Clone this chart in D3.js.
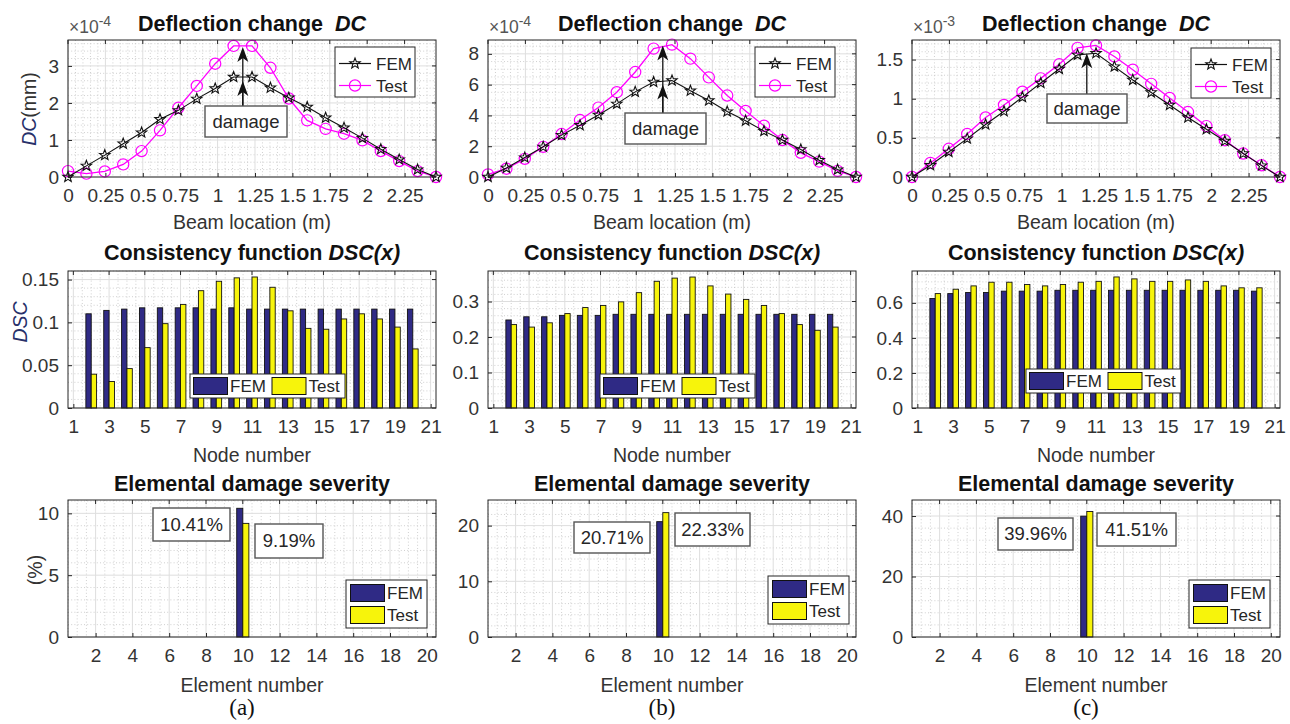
<!DOCTYPE html>
<html><head><meta charset="utf-8">
<script src="https://cdn.jsdelivr.net/npm/d3@7"></script>
<style>body{margin:0;background:#fff} svg{display:block}</style>
</head><body><svg id="c" width="1290" height="724"></svg>
<script>
// ---------------- DATA ----------------
const beamX = [0,0.123,0.246,0.369,0.492,0.615,0.738,0.861,0.984,1.107,1.23,1.353,1.476,1.599,1.722,1.845,1.968,2.091,2.214,2.337,2.46];
const beamTicks = [0,0.25,0.5,0.75,1,1.25,1.5,1.75,2,2.25];
const beamTickLabels = ["0","0.25","0.5","0.75","1","1.25","1.5","1.75","2","2.25"];

// Deflection change (mantissa, multiply by 10^exp)
const dcExp = [-4, -4, -3];
const dcFEM_a  = [0,0.30,0.59,0.90,1.20,1.56,1.80,2.11,2.39,2.70,2.70,2.41,2.14,1.89,1.60,1.33,1.05,0.75,0.47,0.20,0];
const dcTest_a = [0.16,0.09,0.15,0.34,0.70,1.26,1.87,2.46,3.06,3.54,3.54,2.95,2.12,1.53,1.30,1.17,0.99,0.70,0.43,0.16,0];
const dcFEM_b  = [0,0.59,1.26,1.96,2.72,3.36,4.03,4.75,5.53,6.17,6.27,5.60,4.97,4.25,3.66,2.98,2.40,1.79,1.09,0.48,0];
const dcTest_b = [0.17,0.54,1.18,1.96,2.79,3.70,4.51,5.51,6.82,8.34,8.60,7.69,6.47,5.29,4.29,3.33,2.40,1.57,1.00,0.40,0];
const dcFEM_c  = [0,0.15,0.32,0.49,0.67,0.84,1.02,1.20,1.38,1.56,1.58,1.41,1.24,1.08,0.92,0.76,0.61,0.46,0.30,0.145,0];
const dcTest_c = [0,0.18,0.36,0.55,0.76,0.92,1.09,1.26,1.44,1.65,1.68,1.54,1.37,1.19,1.01,0.83,0.65,0.47,0.30,0.15,0];
const dcYTicks = [[0,1,2,3],[0,2,4,6,8],[0,0.5,1,1.5]];
const dcYMax = [3.7, 8.9, 1.75];

// Consistency function DSC
const nodes = [2,3,4,5,6,7,8,9,10,11,12,13,14,15,16,17,18,19,20];
const nodeTicks = [1,3,5,7,9,11,13,15,17,19,21];
const dscFEM_a  = [0.110,0.114,0.1155,0.117,0.117,0.117,0.117,0.1155,0.117,0.1155,0.1155,0.1155,0.1155,0.1155,0.1155,0.1155,0.1155,0.1155,0.1155];
const dscTest_a = [0.0395,0.031,0.046,0.0705,0.0985,0.121,0.137,0.148,0.152,0.153,0.141,0.1135,0.093,0.092,0.104,0.110,0.104,0.0945,0.069];
const dscFEM_b  = [0.248,0.257,0.257,0.261,0.261,0.261,0.264,0.264,0.264,0.264,0.264,0.264,0.264,0.264,0.264,0.264,0.264,0.264,0.264];
const dscTest_b = [0.235,0.228,0.240,0.266,0.283,0.289,0.299,0.325,0.357,0.366,0.369,0.344,0.321,0.306,0.289,0.266,0.235,0.219,0.228];
const dscFEM_c  = [0.625,0.653,0.659,0.659,0.667,0.667,0.667,0.672,0.672,0.672,0.672,0.672,0.672,0.672,0.672,0.672,0.672,0.672,0.667];
const dscTest_c = [0.653,0.678,0.697,0.718,0.718,0.705,0.697,0.705,0.718,0.723,0.748,0.737,0.723,0.723,0.731,0.723,0.697,0.686,0.686];
const dscYTicks = [[0,0.05,0.1,0.15],[0,0.1,0.2,0.3],[0,0.2,0.4,0.6]];
const dscYTickLabels = [["0","0.05","0.1","0.15"],["0","0.1","0.2","0.3"],["0","0.2","0.4","0.6"]];
const dscYMax = [0.16, 0.386, 0.782];

// Elemental damage severity (%)
const elements = [1,2,3,4,5,6,7,8,9,10,11,12,13,14,15,16,17,18,19,20];
const elemTicks = [2,4,6,8,10,12,14,16,18,20];
const sevFEM_a  = [0,0,0,0,0,0,0,0,0,10.41,0,0,0,0,0,0,0,0,0,0];
const sevTest_a = [0,0,0,0,0,0,0,0,0,9.19,0,0,0,0,0,0,0,0,0,0];
const sevFEM_b  = [0,0,0,0,0,0,0,0,0,20.71,0,0,0,0,0,0,0,0,0,0];
const sevTest_b = [0,0,0,0,0,0,0,0,0,22.33,0,0,0,0,0,0,0,0,0,0];
const sevFEM_c  = [0,0,0,0,0,0,0,0,0,39.96,0,0,0,0,0,0,0,0,0,0];
const sevTest_c = [0,0,0,0,0,0,0,0,0,41.51,0,0,0,0,0,0,0,0,0,0];
const sevLabelFEM  = ["10.41%","20.71%","39.96%"];
const sevLabelTest = ["9.19%","22.33%","41.51%"];
const sevYTicks = [[0,5,10],[0,10,20],[0,20,40]];
const sevYMax = [11.08, 24.6, 45.3];

const panelTags = ["(a)","(b)","(c)"];
const seriesNames = ["FEM","Test"];

// ---------------- STYLE / LAYOUT ----------------
const FONT = '"Liberation Sans", Arial, Helvetica, sans-serif';
const AX = '#262626';
const C_FEM = '#2f2a85', C_TEST = '#f7f40b', C_MAG = '#ff00ff';
const cols = [68, 488, 912];
const W = 368;
const rowTop = [40, 271, 500];
const H = 137;

const svg = d3.select('#c');

function frame(x0, y0, xs, ys, xMajor, yMajor, xMinorStep, yMinorStep, xLabels, yLabels) {
  const g = svg.append('g');
  g.append('rect').attr('x', x0).attr('y', y0).attr('width', W).attr('height', H).attr('fill', '#fff');
  const near = (v, arr) => arr.some(a => Math.abs(a - v) < 1e-9);
  const [xd0, xd1] = xs.domain(), [yd0, yd1] = ys.domain();
  const xMin = d3.range(Math.ceil(xd0 / xMinorStep - 1e-9) * xMinorStep, xd1 + 1e-9, xMinorStep).filter(v => !near(Math.round(v*1e6)/1e6, xMajor));
  const yMin = d3.range(Math.ceil(yd0 / yMinorStep - 1e-9) * yMinorStep, yd1 + 1e-9, yMinorStep).filter(v => !near(Math.round(v*1e6)/1e6, yMajor));
  g.selectAll(null).data(xMin).join('line')
    .attr('x1', d => xs(d)).attr('x2', d => xs(d)).attr('y1', y0).attr('y2', y0 + H)
    .attr('stroke', '#c4c4c4').attr('stroke-width', 0.8).attr('stroke-dasharray', '1,2.2');
  g.selectAll(null).data(yMin).join('line')
    .attr('y1', d => ys(d)).attr('y2', d => ys(d)).attr('x1', x0).attr('x2', x0 + W)
    .attr('stroke', '#c4c4c4').attr('stroke-width', 0.8).attr('stroke-dasharray', '1,2.2');
  g.selectAll(null).data(xMajor).join('line')
    .attr('x1', d => xs(d)).attr('x2', d => xs(d)).attr('y1', y0).attr('y2', y0 + H)
    .attr('stroke', '#dedede').attr('stroke-width', 1);
  g.selectAll(null).data(yMajor).join('line')
    .attr('y1', d => ys(d)).attr('y2', d => ys(d)).attr('x1', x0).attr('x2', x0 + W)
    .attr('stroke', '#dedede').attr('stroke-width', 1);
  const bx = d3.axisBottom(xs).tickValues(xMajor).tickSizeInner(-4).tickSizeOuter(0).tickPadding(11)
    .tickFormat((d, i) => xLabels ? xLabels[i] : d);
  const by = d3.axisLeft(ys).tickValues(yMajor).tickSizeInner(-4).tickSizeOuter(0).tickPadding(9)
    .tickFormat((d, i) => yLabels ? yLabels[i] : d);
  const ax = g.append('g').attr('transform', `translate(0,${y0 + H})`).call(bx);
  const ay = g.append('g').attr('transform', `translate(${x0},0)`).call(by);
  [ax, ay].forEach(a => {
    a.select('.domain').remove();
    a.selectAll('line').attr('stroke', AX);
    a.selectAll('text').attr('fill', '#333').attr('font-family', FONT).attr('font-size', 19);
  });
  ax.selectAll('text').attr('dy', '0.72em');
  g.selectAll(null).data(xMajor).join('line').attr('x1', d => xs(d)).attr('x2', d => xs(d)).attr('y1', y0).attr('y2', y0 + 4).attr('stroke', AX);
  g.selectAll(null).data(yMajor).join('line').attr('y1', d => ys(d)).attr('y2', d => ys(d)).attr('x1', x0 + W).attr('x2', x0 + W - 4).attr('stroke', AX);
  return g;
}
function box(x0, y0) {
  svg.append('rect').attr('x', x0).attr('y', y0).attr('width', W).attr('height', H)
    .attr('fill', 'none').attr('stroke', AX).attr('stroke-width', 1);
}
function title(cx, y, main, ital) {
  const t = svg.append('text').attr('x', cx).attr('y', y).attr('text-anchor', 'middle')
    .attr('font-family', FONT).attr('font-size', 21.5).attr('font-weight', 'bold').attr('fill', '#111')
    .attr('xml:space', 'preserve');
  t.append('tspan').text(main);
  t.append('tspan').attr('font-style', 'italic').text(ital);
}
function xlabel(cx, y, s) {
  svg.append('text').attr('x', cx).attr('y', y).attr('text-anchor', 'middle')
    .attr('font-family', FONT).attr('font-size', 19.5).attr('fill', '#333').text(s);
}
function starPath(r) {
  const pts = [];
  for (let i = 0; i < 10; i++) {
    const a = -Math.PI / 2 + i * Math.PI / 5;
    const rr = i % 2 ? r * 0.42 : r;
    pts.push([rr * Math.cos(a), rr * Math.sin(a)]);
  }
  return 'M' + pts.map(p => p.join(',')).join('L') + 'Z';
}
function textBox(x, y, w, h, s) {
  svg.append('rect').attr('x', x).attr('y', y).attr('width', w).attr('height', h)
    .attr('fill', '#fff').attr('stroke', '#555').attr('stroke-width', 1.4);
  svg.append('text').attr('x', x + w / 2).attr('y', y + h / 2).attr('dy', '0.35em').attr('text-anchor', 'middle')
    .attr('font-family', FONT).attr('font-size', 18.5).attr('fill', AX).text(s);
}
function arrowUp(x, yFrom, yTip) {
  svg.append('line').attr('x1', x).attr('x2', x).attr('y1', yFrom).attr('y2', yTip + 8).attr('stroke', '#111').attr('stroke-width', 1.3);
  svg.append('path').attr('d', `M${x},${yTip}L${x - 5.5},${yTip + 15}L${x},${yTip + 11}L${x + 5.5},${yTip + 15}Z`).attr('fill', '#111');
}

// ---------------- ROW 1: Deflection change ----------------
const dcFEM = [dcFEM_a, dcFEM_b, dcFEM_c], dcTest = [dcTest_a, dcTest_b, dcTest_c];
const dmgBoxes = [[205, 106, 82, 31], [625, 113, 81, 31], [1047, 94, 80, 29]];
const legTop = [[335, 47], [755, 47], [1191, 48]];
for (let p = 0; p < 3; p++) {
  const x0 = cols[p], y0 = rowTop[0];
  const xs = d3.scaleLinear().domain([0, 2.46]).range([x0, x0 + W]);
  const ys = d3.scaleLinear().domain([0, dcYMax[p]]).range([y0 + H, y0]);
  const ymStep = dcYTicks[p][1] - dcYTicks[p][0];
  frame(x0, y0, xs, ys, beamTicks, dcYTicks[p], 0.05, ymStep === 2 ? 0.5 : ymStep / 5, beamTickLabels, null);
  const line = d3.line().x((d, i) => xs(beamX[i])).y(d => ys(d));
  const g = svg.append('g');
  g.append('path').attr('d', line(dcTest[p])).attr('fill', 'none').attr('stroke', C_MAG).attr('stroke-width', 1.3);
  g.selectAll(null).data(dcTest[p]).join('circle').attr('cx', (d, i) => xs(beamX[i])).attr('cy', d => ys(d)).attr('r', 5.6)
    .attr('fill', 'none').attr('stroke', C_MAG).attr('stroke-width', 1.2);
  g.append('path').attr('d', line(dcFEM[p])).attr('fill', 'none').attr('stroke', '#111').attr('stroke-width', 1.1);
  g.selectAll(null).data(dcFEM[p]).join('path').attr('d', starPath(5.5))
    .attr('transform', (d, i) => `translate(${xs(beamX[i])},${ys(d)})`)
    .attr('fill', 'none').attr('stroke', '#111').attr('stroke-width', 1.1);
  box(x0, y0);
  const ax = (xs(beamX[9]) + xs(beamX[10])) / 2;
  const b = dmgBoxes[p];
  if (p < 2) {
    arrowUp(ax, b[1], ys(d3.max(dcTest[p])) + 1);
    arrowUp(ax, b[1], ys(d3.max(dcFEM[p])) + 4);
  } else {
    arrowUp(ax, b[1], ys(d3.max(dcFEM[p])));
  }
  textBox(b[0], b[1], b[2], b[3], 'damage');
  const [lx, ly] = legTop[p];
  svg.append('rect').attr('x', lx).attr('y', ly).attr('width', 80).attr('height', 50).attr('fill', '#fff').attr('stroke', AX).attr('stroke-width', 1);
  [[ly + 16.5, '#111', 'star'], [ly + 38.5, C_MAG, 'circle']].forEach((r, i) => {
    svg.append('line').attr('x1', lx + 4).attr('x2', lx + 36).attr('y1', r[0]).attr('y2', r[0]).attr('stroke', r[1]).attr('stroke-width', 1.2);
    if (r[2] === 'star') svg.append('path').attr('d', starPath(5.5)).attr('transform', `translate(${lx + 20},${r[0]})`).attr('fill', 'none').attr('stroke', '#111').attr('stroke-width', 1.1);
    else svg.append('circle').attr('cx', lx + 20).attr('cy', r[0]).attr('r', 5.6).attr('fill', 'none').attr('stroke', C_MAG).attr('stroke-width', 1.2);
    svg.append('text').attr('x', lx + 41).attr('y', r[0]).attr('dy', '0.36em').attr('font-family', FONT).attr('font-size', 17).attr('fill', AX).text(seriesNames[i]);
  });
  const et = svg.append('text').attr('x', x0 + 1).attr('y', y0 - 7).attr('font-family', FONT).attr('font-size', 17.5).attr('fill', '#555');
  et.append('tspan').text('\u00d710');
  et.append('tspan').attr('dy', -7).attr('font-size', 14).text(String(dcExp[p]));
  title(x0 + W / 2, 31, 'Deflection change  ', 'DC');
  xlabel(x0 + W / 2, 229, 'Beam location (m)');
}
{
  const t = svg.append('text').attr('transform', 'translate(36,109) rotate(-90)').attr('text-anchor', 'middle')
    .attr('font-family', FONT).attr('font-size', 19.5).attr('fill', '#333');
  t.append('tspan').attr('font-style', 'italic').attr('fill', '#27306a').text('DC');
  t.append('tspan').text('(mm)');
}

// ---------------- ROW 2: Consistency function ----------------
const dscFEM = [dscFEM_a, dscFEM_b, dscFEM_c], dscTest = [dscTest_a, dscTest_b, dscTest_c];
const legMid = [[190, 374], [600, 374], [1026, 369]];
for (let p = 0; p < 3; p++) {
  const x0 = cols[p], y0 = rowTop[1];
  const xs = d3.scaleLinear().domain([0.7, 21.3]).range([x0, x0 + W]);
  const ys = d3.scaleLinear().domain([0, dscYMax[p]]).range([y0 + H, y0]);
  const st = dscYTicks[p][1] - dscYTicks[p][0];
  frame(x0, y0, xs, ys, nodeTicks, dscYTicks[p], 0.5, st / 5, null, dscYTickLabels[p]);
  const bw = 0.3;
  const g = svg.append('g');
  g.selectAll(null).data(dscFEM[p]).join('rect')
    .attr('x', (d, i) => xs(nodes[i] - bw)).attr('width', (d, i) => xs(nodes[i]) - xs(nodes[i] - bw))
    .attr('y', d => ys(d)).attr('height', d => ys(0) - ys(d))
    .attr('fill', C_FEM).attr('stroke', '#111').attr('stroke-width', 0.9);
  g.selectAll(null).data(dscTest[p]).join('rect')
    .attr('x', (d, i) => xs(nodes[i])).attr('width', (d, i) => xs(nodes[i] + bw) - xs(nodes[i]))
    .attr('y', d => ys(d)).attr('height', d => ys(0) - ys(d))
    .attr('fill', C_TEST).attr('stroke', '#111').attr('stroke-width', 0.9);
  box(x0, y0);
  const [lx, ly] = legMid[p];
  svg.append('rect').attr('x', lx).attr('y', ly).attr('width', 155).attr('height', 24).attr('fill', '#fff').attr('stroke', AX).attr('stroke-width', 1);
  [[lx + 3.5, C_FEM, lx + 40], [lx + 82, C_TEST, lx + 118.5]].forEach((r, i) => {
    svg.append('rect').attr('x', r[0]).attr('y', ly + 3.5).attr('width', 34).attr('height', 17).attr('fill', r[1]).attr('stroke', '#111').attr('stroke-width', 1);
    svg.append('text').attr('x', r[2]).attr('y', ly + 12).attr('dy', '0.36em').attr('font-family', FONT).attr('font-size', 17).attr('fill', AX).text(seriesNames[i]);
  });
  title(x0 + W / 2, 260, 'Consistency function ', 'DSC(x)');
  xlabel(x0 + W / 2, 462, 'Node number');
}
svg.append('text').attr('transform', 'translate(27,322) rotate(-90)').attr('text-anchor', 'middle')
  .attr('font-family', FONT).attr('font-size', 19.5).attr('font-style', 'italic').attr('fill', '#27306a').text('DSC');

// ---------------- ROW 3: Elemental damage severity ----------------
const sevFEM = [sevFEM_a, sevFEM_b, sevFEM_c], sevTest = [sevTest_a, sevTest_b, sevTest_c];
const boxFEM = [[153, 508, 77, 33], [574, 522, 76, 31], [998, 518, 75, 32]];
const boxTest = [[255, 524, 68, 34], [675, 513, 75, 33], [1097, 513, 79, 33]];
const legBot = [[346, 580], [768, 576], [1189, 580]];
for (let p = 0; p < 3; p++) {
  const x0 = cols[p], y0 = rowTop[2];
  const xs = d3.scaleLinear().domain([0.5, 20.5]).range([x0, x0 + W]);
  const ys = d3.scaleLinear().domain([0, sevYMax[p]]).range([y0 + H, y0]);
  const st = sevYTicks[p][1] - sevYTicks[p][0];
  frame(x0, y0, xs, ys, elemTicks, sevYTicks[p], 0.5, st / 5, null, null);
  const bw = 0.33;
  const g = svg.append('g');
  const fe = elements.map((e, i) => ({ e, v: sevFEM[p][i] })).filter(d => d.v > 0);
  const te = elements.map((e, i) => ({ e, v: sevTest[p][i] })).filter(d => d.v > 0);
  g.selectAll(null).data(fe).join('rect')
    .attr('x', d => xs(d.e - bw)).attr('width', d => xs(d.e) - xs(d.e - bw))
    .attr('y', d => ys(d.v)).attr('height', d => ys(0) - ys(d.v))
    .attr('fill', C_FEM).attr('stroke', '#111').attr('stroke-width', 0.9);
  g.selectAll(null).data(te).join('rect')
    .attr('x', d => xs(d.e)).attr('width', d => xs(d.e + bw) - xs(d.e))
    .attr('y', d => ys(d.v)).attr('height', d => ys(0) - ys(d.v))
    .attr('fill', C_TEST).attr('stroke', '#111').attr('stroke-width', 0.9);
  box(x0, y0);
  textBox(...boxFEM[p], sevLabelFEM[p]);
  textBox(...boxTest[p], sevLabelTest[p]);
  const [lx, ly] = legBot[p];
  svg.append('rect').attr('x', lx).attr('y', ly).attr('width', 81).attr('height', 48).attr('fill', '#fff').attr('stroke', AX).attr('stroke-width', 1);
  [[ly + 4.5, C_FEM], [ly + 26.5, C_TEST]].forEach((r, i) => {
    svg.append('rect').attr('x', lx + 4.5).attr('y', r[0]).attr('width', 34).attr('height', 17).attr('fill', r[1]).attr('stroke', '#111').attr('stroke-width', 1);
    svg.append('text').attr('x', lx + 41).attr('y', r[0] + 8.5).attr('dy', '0.36em').attr('font-family', FONT).attr('font-size', 17).attr('fill', AX).text(seriesNames[i]);
  });
  title(x0 + W / 2, 491, 'Elemental damage severity', '');
  xlabel(x0 + W / 2, 692, 'Element number');
  svg.append('text').attr('x', x0 + W / 2 - 10).attr('y', 715).attr('text-anchor', 'middle')
    .attr('font-family', '"Liberation Serif", "Times New Roman", serif').attr('font-size', 23).attr('fill', '#111').text(panelTags[p]);
}
svg.append('text').attr('transform', 'translate(42,570) rotate(-90)').attr('text-anchor', 'middle')
  .attr('font-family', FONT).attr('font-size', 19.5).attr('fill', '#333').text('(%)');
</script></body></html>
